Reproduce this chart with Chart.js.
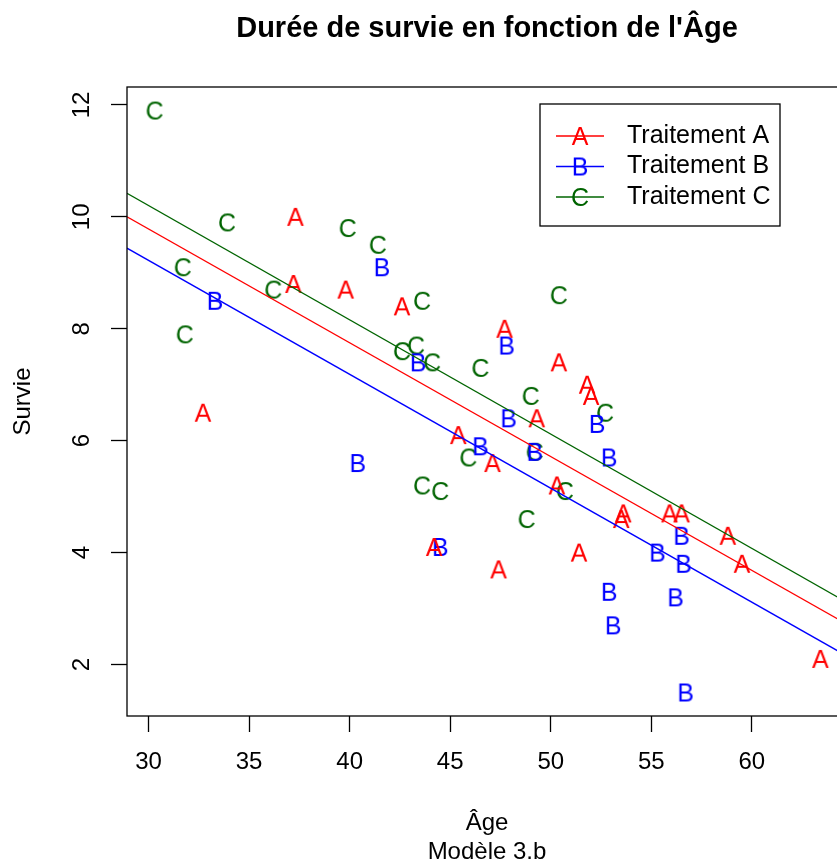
<!DOCTYPE html>
<html>
<head>
<meta charset="utf-8">
<script src="https://cdn.jsdelivr.net/npm/chart.js@4.4.1/dist/chart.umd.min.js"></script>
<style>
  html, body { margin: 0; padding: 0; background: #fff; overflow: hidden; }
  #wrap { width: 860px; height: 868px; }
</style>
</head>
<body>
<div id="wrap"><canvas id="chart" width="860" height="868"></canvas></div>
<script>
"use strict";

// groupes et couleurs
const letters = ["A", "B", "C"];
const legendLabels = ["Traitement A", "Traitement B", "Traitement C"];
const colors = ["#FF0000", "#0000FF", "#006400"];

// Âge / Survie par traitement
const ageA = [37.3, 37.2, 39.8, 42.6, 32.7, 47.7, 50.4, 51.8, 52.0, 49.3, 45.4, 47.1, 50.3, 44.2, 47.4, 51.4, 53.6, 53.5, 55.9, 56.5, 58.8, 59.5, 63.4];
const survieA = [10.0, 8.8, 8.7, 8.4, 6.5, 8.0, 7.4, 7.0, 6.8, 6.4, 6.1, 5.6, 5.2, 4.1, 3.7, 4.0, 4.7, 4.6, 4.7, 4.7, 4.3, 3.8, 2.1];

const ageB = [33.3, 41.6, 43.4, 47.8, 40.4, 47.9, 46.5, 49.2, 44.5, 52.3, 52.9, 55.3, 56.5, 56.6, 52.9, 53.1, 56.2, 56.7];
const survieB = [8.5, 9.1, 7.4, 7.7, 5.6, 6.4, 5.9, 5.8, 4.1, 6.3, 5.7, 4.0, 4.3, 3.8, 3.3, 2.7, 3.2, 1.5];

const ageC = [30.3, 33.9, 39.9, 41.4, 31.7, 36.2, 31.8, 43.6, 50.4, 42.6, 43.3, 44.1, 46.5, 49.0, 52.7, 45.9, 49.2, 43.6, 44.5, 50.7, 48.8];
const survieC = [11.9, 9.9, 9.8, 9.5, 9.1, 8.7, 7.9, 8.5, 8.6, 7.6, 7.7, 7.4, 7.3, 6.8, 6.5, 5.7, 5.8, 5.2, 5.1, 5.1, 4.6];

// droites ajustées (extrémités)
const lineAgeEnds = [28.93, 64.73];
const lineA = [10.0, 2.72];
const lineB = [9.44, 2.15];
const lineC = [10.42, 3.11];

// axes
const xTicks = [30, 35, 40, 45, 50, 55, 60];
const yTicks = [2, 4, 6, 8, 10, 12];
const xRange = [28.93, 64.73];
const yRange = [1.08, 12.32];

const FONT = "'Liberation Sans', Arial, Helvetica, sans-serif";
Chart.defaults.font.family = FONT;

function letterIcon(letter, color) {
  const c = document.createElement("canvas");
  c.width = 40;
  c.height = 40;
  const g = c.getContext("2d");
  g.font = "25px " + FONT;
  g.fillStyle = color;
  g.textAlign = "center";
  g.textBaseline = "alphabetic";
  g.fillText(letter, 20, 20 + 9);
  return c;
}

const icons = letters.map((l, i) => letterIcon(l, colors[i]));

function pts(xs, ys) {
  return xs.map((x, i) => ({ x: x, y: ys[i] }));
}

function pointSet(i, xs, ys) {
  return {
    type: "scatter",
    label: legendLabels[i],
    data: pts(xs, ys),
    pointStyle: icons[i],
    pointRadius: 10,
    showLine: false,
  };
}

function lineSet(i, ys) {
  return {
    type: "line",
    label: legendLabels[i] + " (droite)",
    data: pts(lineAgeEnds, ys),
    borderColor: colors[i],
    borderWidth: 1.3,
    pointRadius: 0,
    fill: false,
  };
}

// texte style R + cadre + légende
const rDecor = {
  id: "rDecor",
  afterDraw(chart) {
    const ctx = chart.ctx;
    const a = chart.chartArea;
    const y = chart.scales.y;
    const cx = (a.left + a.right) / 2;
    ctx.save();

    ctx.strokeStyle = "#000";
    ctx.lineWidth = 1.3;
    ctx.strokeRect(a.left, a.top, a.right - a.left, a.bottom - a.top);

    ctx.fillStyle = "#000";
    ctx.textAlign = "center";
    ctx.textBaseline = "middle";

    ctx.font = "24px " + FONT;
    y.ticks.forEach(t => {
      ctx.save();
      ctx.translate(82, y.getPixelForValue(t.value));
      ctx.rotate(-Math.PI / 2);
      ctx.fillText(String(t.value), 0, 0);
      ctx.restore();
    });

    ctx.save();
    ctx.translate(23, (a.top + a.bottom) / 2);
    ctx.rotate(-Math.PI / 2);
    ctx.fillText("Survie", 0, 0);
    ctx.restore();

    ctx.fillText("Âge", cx, 823);
    ctx.fillText("Modèle 3.b", cx, 852);

    ctx.font = "bold 29px " + FONT;
    ctx.fillText("Durée de survie en fonction de l'Âge", cx, 29);

    // légende
    const lx = 540, ly = 104, lw = 240, lh = 122;
    ctx.fillStyle = "#fff";
    ctx.fillRect(lx, ly, lw, lh);
    ctx.strokeStyle = "#000";
    ctx.lineWidth = 1.3;
    ctx.strokeRect(lx, ly, lw, lh);
    ctx.font = "25px " + FONT;
    ctx.textAlign = "left";
    legendLabels.forEach((lab, i) => {
      const ry = 136 + i * 30.5;
      ctx.strokeStyle = colors[i];
      ctx.lineWidth = 1.3;
      ctx.beginPath();
      ctx.moveTo(556, ry);
      ctx.lineTo(604, ry);
      ctx.stroke();
      ctx.drawImage(icons[i], 580 - 20, ry - 20);
      ctx.fillStyle = "#000";
      ctx.fillText(lab, 627, ry);
    });

    ctx.restore();
  }
};

new Chart(document.getElementById("chart"), {
  type: "scatter",
  data: {
    datasets: [
      lineSet(0, lineA),
      lineSet(1, lineB),
      lineSet(2, lineC),
      pointSet(0, ageA, survieA),
      pointSet(1, ageB, survieB),
      pointSet(2, ageC, survieC),
    ],
  },
  options: {
    responsive: false,
    animation: false,
    layout: {
      padding: { top: 87, left: 0, right: 13, bottom: 0 },
    },
    plugins: {
      legend: { display: false },
      tooltip: { enabled: false },
    },
    scales: {
      x: {
        type: "linear",
        min: xRange[0],
        max: xRange[1],
        afterBuildTicks: s => { s.ticks = xTicks.map(v => ({ value: v })); },
        afterFit: s => { s.height = 152; },
        border: { display: false },
        grid: {
          drawOnChartArea: false,
          tickLength: 16,
          tickColor: "#000",
          tickWidth: 1.3,
        },
        ticks: {
          color: "#000",
          font: { size: 24 },
          padding: 16,
          maxRotation: 0,
        },
      },
      y: {
        type: "linear",
        min: yRange[0],
        max: yRange[1],
        afterBuildTicks: s => { s.ticks = yTicks.map(v => ({ value: v })); },
        afterFit: s => { s.width = 127; },
        border: { display: false },
        grid: {
          drawOnChartArea: false,
          tickLength: 16,
          tickColor: "#000",
          tickWidth: 1.3,
        },
        ticks: { display: false },
      },
    },
  },
  plugins: [rDecor],
});
</script>
</body>
</html>
